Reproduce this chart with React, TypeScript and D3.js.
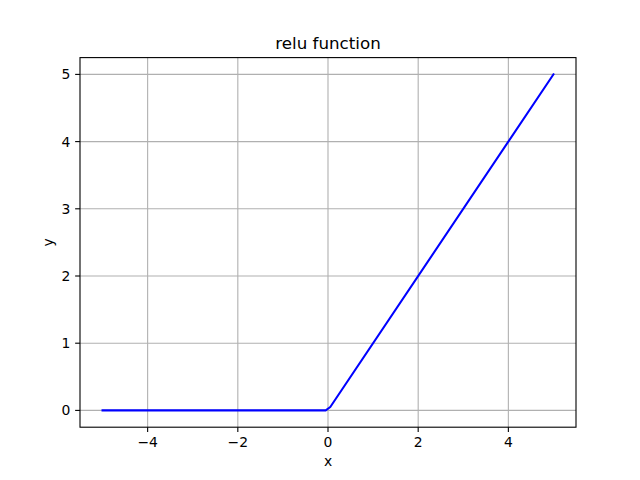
import React from "react";
import * as d3 from "d3";

const xValues = [-5, -0.0505, 0.0505, 5];
const yValues = [0, 0, 0.0505, 5];
const xTicks = [-4, -2, 0, 2, 4];
const yTicks = [0, 1, 2, 3, 4, 5];
const title = "relu function";
const xLabel = "x";
const yLabel = "y";

const W = 640, H = 480;
const L = 80, R = 576, T = 57.6, B = 427.2;
const font = "DejaVu Sans, sans-serif";
const fmt = (v: number) => (v < 0 ? "\u2212" + Math.abs(v) : String(v));

export default function App() {
  const x = d3.scaleLinear().domain([-5.5, 5.5]).range([L, R]);
  const y = d3.scaleLinear().domain([-0.25, 5.25]).range([B, T]);
  const pts = xValues.map((v, i) => [v, yValues[i]] as [number, number]);
  const line = d3.line<[number, number]>().x(d => x(d[0])).y(d => y(d[1]));
  const tl = 4.86;
  return (
    <svg width={W} height={H} style={{ display: "block", position: "absolute", left: 0, top: 0 }}>
      <rect x={0} y={0} width={W} height={H} fill="#fff" />
      {xTicks.map(t => (
        <line key={"gx" + t} x1={x(t)} x2={x(t)} y1={T} y2={B} stroke="#b0b0b0" strokeWidth={1.1} />
      ))}
      {yTicks.map(t => (
        <line key={"gy" + t} x1={L} x2={R} y1={y(t)} y2={y(t)} stroke="#b0b0b0" strokeWidth={1.1} />
      ))}
      <path d={line(pts) || ""} fill="none" stroke="#0000ff" strokeWidth={2.08} strokeLinejoin="round" strokeLinecap="square" />
      <rect x={L} y={T} width={R - L} height={B - T} fill="none" stroke="#000" strokeWidth={1.1} />
      {xTicks.map(t => (
        <g key={"tx" + t}>
          <line x1={x(t)} x2={x(t)} y1={B} y2={B + tl} stroke="#000" strokeWidth={1.1} />
          <text x={x(t)} y={B + tl + 4.86 + 10.5} textAnchor="middle" fontFamily={font} fontSize={13.9}>{fmt(t)}</text>
        </g>
      ))}
      {yTicks.map(t => (
        <g key={"ty" + t}>
          <line x1={L - tl} x2={L} y1={y(t)} y2={y(t)} stroke="#000" strokeWidth={1.1} />
          <text x={L - tl - 4.86} y={y(t)} dy="0.36em" textAnchor="end" fontFamily={font} fontSize={13.9}>{fmt(t)}</text>
        </g>
      ))}
      <text x={(L + R) / 2} y={T - 8.3} textAnchor="middle" fontFamily={font} fontSize={16.7}>{title}</text>
      <text x={(L + R) / 2} y={466} textAnchor="middle" fontFamily={font} fontSize={13.9}>{xLabel}</text>
      <text transform={`translate(52.7,${(T + B) / 2}) rotate(-90)`} textAnchor="middle" fontFamily={font} fontSize={13.9}>{yLabel}</text>
    </svg>
  );
}
